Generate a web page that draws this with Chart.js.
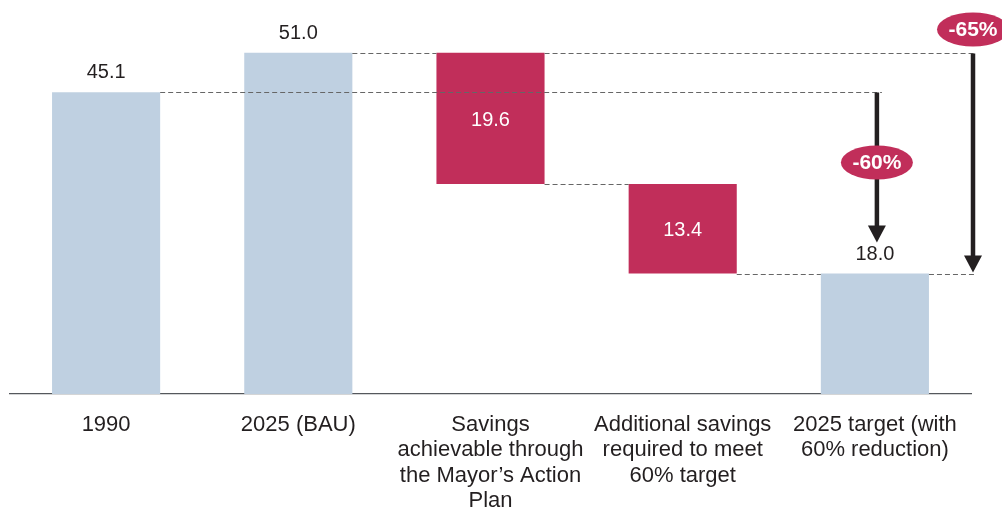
<!DOCTYPE html>
<html lang="en">
<head>
<meta charset="UTF-8" />
<title>Emissions waterfall</title>
<script src="https://cdn.jsdelivr.net/npm/chart.js"></script>
<style>
  body { margin: 0; background: #fff; }
  #wrap { width: 1002px; height: 513px; position: relative; }
</style>
</head>
<body>
<div id="wrap"><canvas id="chart"></canvas></div>
<script>
// category labels (already split into lines)
const categories = [
  ['1990'],
  ['2025 (BAU)'],
  ['Savings', 'achievable through', 'the Mayor\u2019s Action', 'Plan'],
  ['Additional savings', 'required to meet', '60% target'],
  ['2025 target (with', '60% reduction)']
];
// floating bars: start and end of each bar
const barStart = [0, 0, 31.4, 18.0, 0];
const barEnd = [45.1, 51.0, 51.0, 31.4, 18.0];
const valueLabels = ['45.1', '51.0', '19.6', '13.4', '18.0'];
const isSaving = [false, false, true, true, false];
// reduction arrows
const reductionLabels = ['-60%', '-65%'];
const reductionFrom = [45.1, 51.0];
const reductionTo = [18.0, 18.0];

const BLUE = '#bfd0e1';
const RED = '#c12e5a';
const INK = '#231f20';
const FONT = "'Liberation Sans', Arial, sans-serif";

function arrow(ctx, x, y1, y2) {
  ctx.strokeStyle = INK;
  ctx.fillStyle = INK;
  ctx.lineWidth = 4.5;
  ctx.setLineDash([]);
  ctx.beginPath();
  ctx.moveTo(x, y1);
  ctx.lineTo(x, y2 - 14);
  ctx.stroke();
  ctx.beginPath();
  ctx.moveTo(x - 9, y2 - 17);
  ctx.lineTo(x + 9, y2 - 17);
  ctx.lineTo(x, y2);
  ctx.closePath();
  ctx.fill();
}

function badge(ctx, x, y, text) {
  ctx.fillStyle = RED;
  ctx.beginPath();
  ctx.ellipse(x, y, 36, 17, 0, 0, Math.PI * 2);
  ctx.fill();
  ctx.fillStyle = '#fff';
  ctx.font = 'bold 21px ' + FONT;
  ctx.textAlign = 'center';
  ctx.textBaseline = 'middle';
  ctx.fillText(text, x, y + 1);
}

const annotate = {
  id: 'annotate',
  afterDatasetsDraw(chart) {
    const { ctx, chartArea, scales: { y } } = chart;
    const bars = chart.getDatasetMeta(0).data;
    const left = i => bars[i].x - bars[i].width / 2;
    const right = i => bars[i].x + bars[i].width / 2;
    const py = v => Math.round(y.getPixelForValue(v)) + 0.5;
    const arrowX = [bars[4].x + 2, chartArea.right + 2];

    ctx.save();
    // dashed connectors
    ctx.strokeStyle = '#666666';
    ctx.lineWidth = 1;
    ctx.setLineDash([5, 3]);
    const dash = (v, x1, x2) => {
      ctx.beginPath();
      ctx.moveTo(x1, py(v));
      ctx.lineTo(x2, py(v));
      ctx.stroke();
    };
    dash(reductionFrom[0], right(0), arrowX[0] + 5);
    dash(barEnd[1], right(1), left(2));
    dash(barEnd[1], right(2), arrowX[1] + 2);
    dash(barStart[2], right(2), left(3));
    dash(barStart[3], right(3), left(4));
    dash(barEnd[4], right(4), arrowX[1] + 2);

    // value labels
    ctx.font = '20px ' + FONT;
    ctx.textAlign = 'center';
    ctx.textBaseline = 'middle';
    bars.forEach((b, i) => {
      if (isSaving[i]) {
        ctx.fillStyle = '#fff';
        ctx.fillText(valueLabels[i], b.x, (py(barStart[i]) + py(barEnd[i])) / 2 + 1);
      } else {
        ctx.fillStyle = INK;
        ctx.fillText(valueLabels[i], b.x, py(barEnd[i]) - 20);
      }
    });

    // reduction arrows
    arrow(ctx, arrowX[0], py(reductionFrom[0]), py(reductionTo[0]) - 32);
    arrow(ctx, arrowX[1], py(reductionFrom[1]), py(reductionTo[1]) - 2);
    badge(ctx, arrowX[0], py(reductionFrom[0]) + 70, reductionLabels[0]);
    badge(ctx, arrowX[1], py(reductionFrom[1]) - 24, reductionLabels[1]);
    ctx.restore();
  }
};

new Chart(document.getElementById('chart'), {
  type: 'bar',
  data: {
    labels: categories,
    datasets: [{
      data: barStart.map((s, i) => [s, barEnd[i]]),
      backgroundColor: isSaving.map(s => s ? RED : BLUE),
      borderWidth: 0,
      barPercentage: 0.5625,
      categoryPercentage: 1
    }]
  },
  options: {
    responsive: true,
    maintainAspectRatio: false,
    animation: false,
    layout: { padding: { left: 10, right: 31, top: 6, bottom: 0 } },
    plugins: { legend: { display: false }, tooltip: { enabled: false } },
    scales: {
      x: {
        grid: { display: false, drawTicks: false },
        border: { display: true, color: '#55585c', width: 1.2 },
        ticks: {
          color: INK,
          padding: 18,
          maxRotation: 0,
          autoSkip: false,
          font: { family: FONT, size: 22, lineHeight: 1.16 }
        },
        afterFit(scale) { scale.height = 119; }
      },
      y: { display: false, min: 0, max: 58 }
    }
  },
  plugins: [annotate]
});
</script>
</body>
</html>
